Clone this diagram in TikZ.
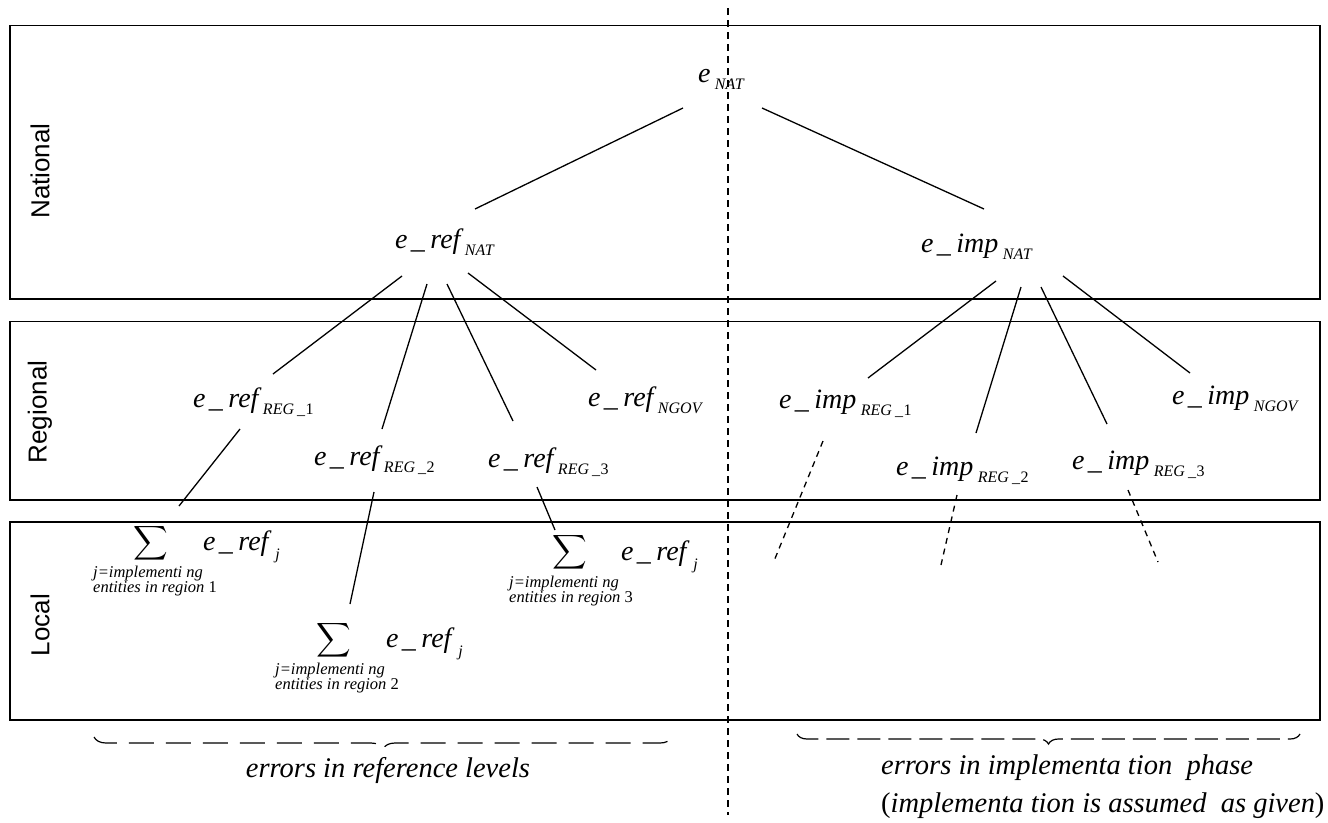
\documentclass[tikz,border=0pt]{standalone}
\usepackage{graphicx}
\usepackage{fontspec}
\setmainfont{Liberation Serif}
\newfontfamily\lblsans{Liberation Sans}
\usetikzlibrary{decorations.pathreplacing}
\newcommand\mainsz{\fontsize{28}{31}\selectfont\itshape}
\newcommand\subsz{\fontsize{16}{18}\selectfont\itshape}
\newcommand\ev[2]{{\mainsz #1}\kern4.5pt\raisebox{-7.5pt}{\subsz #2}}
\newcommand\us{\kern3.5pt\_\kern5.5pt}
\newcommand\regs[1]{REG\kern3pt\_\kern0.5pt{\upshape #1}}
\newcommand\bigsig{\scalebox{2.4}{$\displaystyle\sum$}}
\begin{document}
\begin{tikzpicture}[x=1pt,y=-1pt,
  band/.style={draw, line width=1.8pt, anchor=north west, inner sep=0pt, outer sep=0pt},
  lvl/.style={rotate=90, font=\lblsans\fontsize{26}{26}\selectfont, inner sep=0pt},
  term/.style={anchor=base west, inner sep=0pt, outer sep=0pt},
  link/.style={line width=1.3pt},
  dlink/.style={line width=1.3pt, dash pattern=on 6pt off 5pt},
  sepline/.style={line width=1.3pt, dash pattern=on 7pt off 5pt},
  sig/.style={inner sep=0pt},
  lim/.style={anchor=base west, inner sep=0pt, font=\fontsize{16.5}{15}\selectfont\itshape},
  note/.style={inner sep=0pt, font=\fontsize{28.5}{31}\selectfont\itshape},
  brc/.style={line width=1.2pt, decorate, decoration={brace, mirror, amplitude=#1}},
]
\useasboundingbox (0,0) rectangle (1328,822);

% bands
\node[band, minimum width=1310pt, minimum height=273.5pt] (nat) at (10,25.5) {};
\node[band, minimum width=1310pt, minimum height=178.5pt] (reg) at (10,321.5) {};
\node[band, minimum width=1310pt, minimum height=198pt] (loc) at (10,522) {};

\node[lvl] (lnat) at (40,171) {National};
\node[lvl] (lreg) at (40,412) {Regional};
\node[lvl] (lloc) at (40,625) {Local};

% separator
\coordinate (septop) at (728,8);
\coordinate (sepbot) at (728,815);
\draw[sepline] (septop) -- (sepbot);

% terms
\node[term] (enat) at (698,82) {\ev{e}{NAT}};
\node[term] (erefnat) at (395,248) {\ev{e\us ref}{NAT}};
\node[term] (eimpnat) at (921,252) {\ev{e\us imp}{NAT}};
\node[term] (erefr1) at (193,407) {\ev{e\us ref}{\regs{1}}};
\node[term] (erefr2) at (314,465) {\ev{e\us ref}{\regs{2}}};
\node[term] (erefr3) at (488,467) {\ev{e\us ref}{\regs{3}}};
\node[term] (erefngov) at (588,406) {\ev{e\us ref}{NGOV}};
\node[term] (eimpr1) at (779,408) {\ev{e\us imp}{\regs{1}}};
\node[term] (eimpr2) at (896,475) {\ev{e\us imp}{\regs{2}}};
\node[term] (eimpr3) at (1072,469) {\ev{e\us imp}{\regs{3}}};
\node[term] (eimpngov) at (1172,404) {\ev{e\us imp}{NGOV}};

% sums
\node[sig] (s1) at (151,543.5) {\bigsig};
\node[term] (s1t) at (203,550) {{\mainsz e\us ref}\kern7pt\raisebox{-9pt}{\subsz j}};
\node[lim] (s1l) at (93,577) {\begin{tabular}[t]{@{}l@{}}j=implementi ng\\entities in region {\upshape 1}\end{tabular}};

\node[sig] (s2) at (334,640.5) {\bigsig};
\node[term] (s2t) at (386,647) {{\mainsz e\us ref}\kern7pt\raisebox{-9pt}{\subsz j}};
\node[lim] (s2l) at (275,674) {\begin{tabular}[t]{@{}l@{}}j=implementi ng\\entities in region {\upshape 2}\end{tabular}};

\node[sig] (s3) at (569.5,552.5) {\bigsig};
\node[term] (s3t) at (621,560) {{\mainsz e\us ref}\kern7pt\raisebox{-9pt}{\subsz j}};
\node[lim] (s3l) at (509,587) {\begin{tabular}[t]{@{}l@{}}j=implementi ng\\entities in region {\upshape 3}\end{tabular}};

% connectors
\draw[link] ([shift={(-15,26)}]enat.base west) -- ([shift={(80,-39)}]erefnat.base west);
\draw[link] ([shift={(64,26)}]enat.base west) -- ([shift={(63,-43)}]eimpnat.base west);

\draw[link] ([shift={(7,28)}]erefnat.base west) -- ([shift={(80,-33)}]erefr1.base west);
\draw[link] ([shift={(32,36)}]erefnat.base west) -- ([shift={(68,-36)}]erefr2.base west);
\draw[link] ([shift={(52,36)}]erefnat.base west) -- ([shift={(25,-46)}]erefr3.base west);
\draw[link] ([shift={(73,25)}]erefnat.base west) -- ([shift={(8,-36)}]erefngov.base west);

\draw[link] ([shift={(75,29)}]eimpnat.base west) -- ([shift={(89,-30)}]eimpr1.base west);
\draw[link] ([shift={(100,35)}]eimpnat.base west) -- ([shift={(80,-42)}]eimpr2.base west);
\draw[link] ([shift={(120,35)}]eimpnat.base west) -- ([shift={(35,-45)}]eimpr3.base west);
\draw[link] ([shift={(142,24)}]eimpnat.base west) -- ([shift={(18,-31)}]eimpngov.base west);

\draw[link] ([shift={(47,22)}]erefr1.base west) -- ([shift={(28,-37.5)}]s1.center);
\draw[link] ([shift={(60,27)}]erefr2.base west) -- ([shift={(16,-36.5)}]s2.center);
\draw[link] ([shift={(49,20)}]erefr3.base west) -- ([shift={(-14.5,-22.5)}]s3.center);

\coordinate (o1) at (774,561);
\coordinate (o2) at (941,565);
\coordinate (o3) at (1158,562);
\draw[dlink] ([shift={(44,33)}]eimpr1.base west) -- (o1);
\draw[dlink] ([shift={(61,20)}]eimpr2.base west) -- (o2);
\draw[dlink] ([shift={(56,21)}]eimpr3.base west) -- (o3);

% braces
\coordinate (b1a) at (94,737);
\coordinate (b1b) at (672,737);
\coordinate (b2a) at (797,734);
\coordinate (b2b) at (1300,734);
\draw[brc=12pt, dash pattern=on 25pt off 12pt] (b1a) -- (b1b);
\draw[brc=10pt, dash pattern=on 23pt off 8pt] (b2a) -- (b2b);

\node[note, anchor=base] (nref) at (388,777) {errors in reference levels};
\node[note, anchor=base west] (nimp) at (881,774) {errors in implementa tion\ \ phase};
\node[note, anchor=base west] (nimp2) at (881,812) {{\upshape(}implementa tion is assumed\ \ as given{\upshape)}};
\end{tikzpicture}
\end{document}
